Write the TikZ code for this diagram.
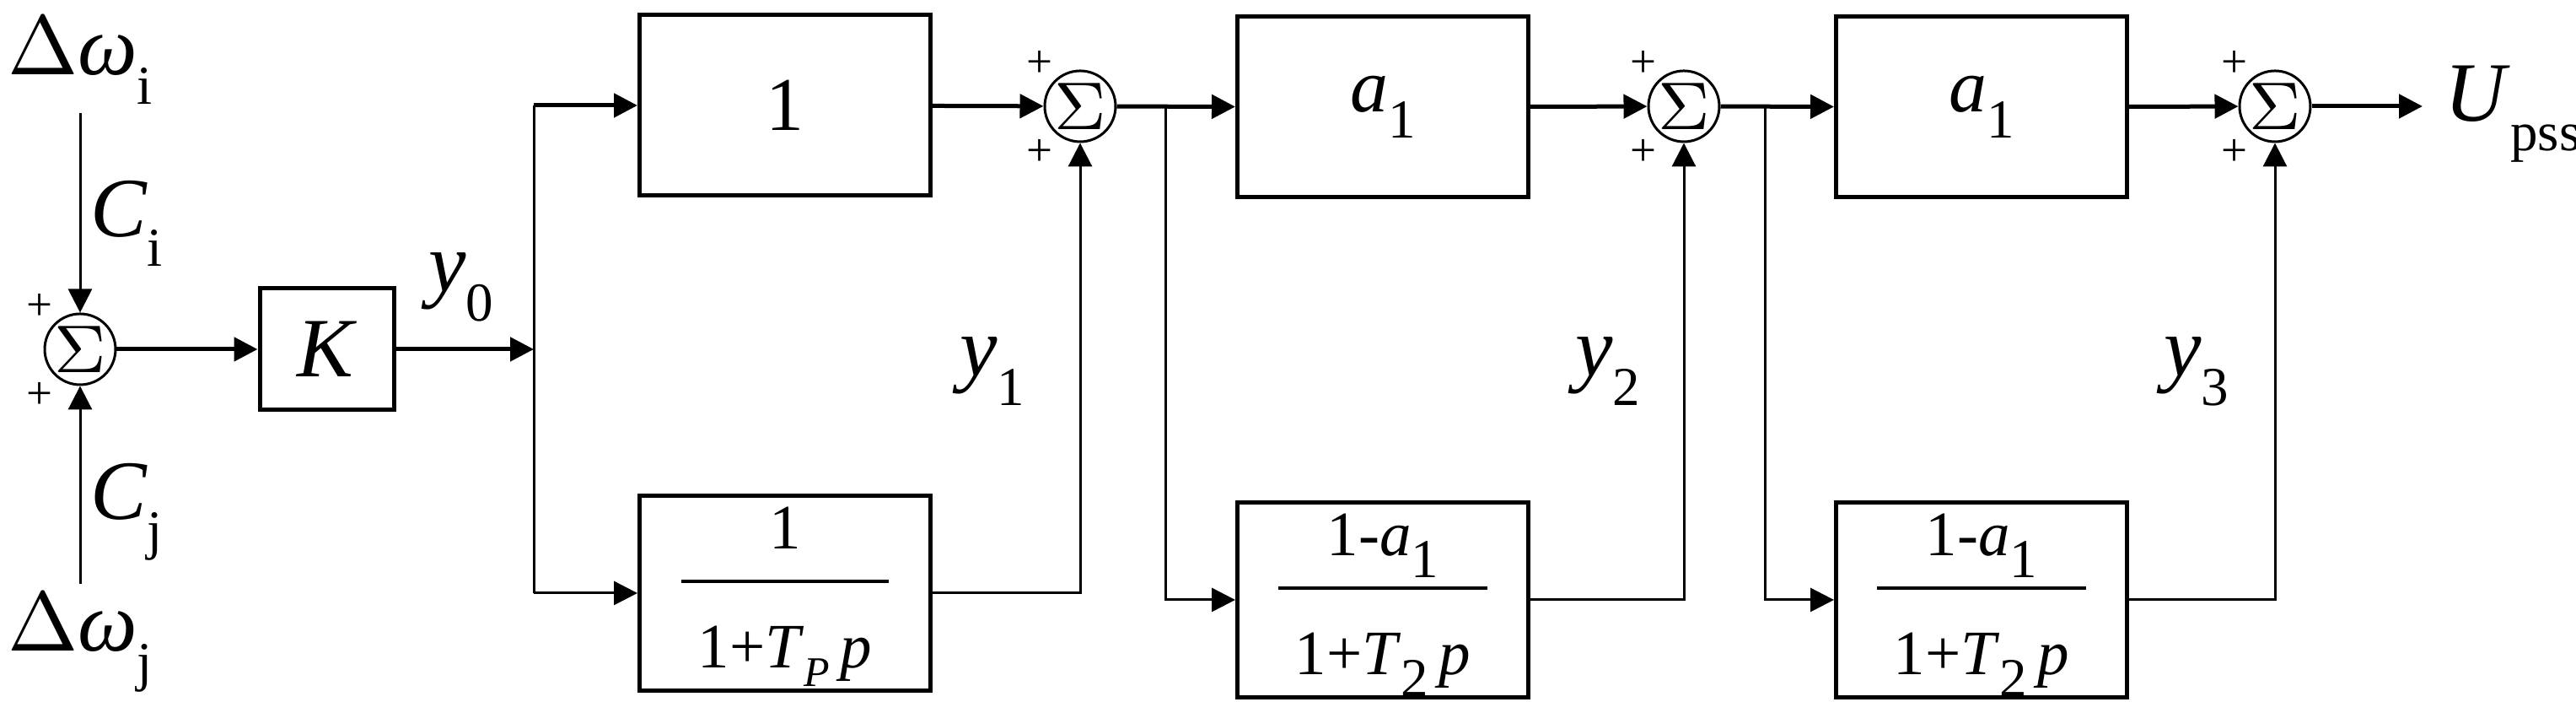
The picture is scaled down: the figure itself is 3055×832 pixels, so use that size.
\documentclass[tikz,border=0pt]{standalone}
\usepackage{fontspec}
\setmainfont{Liberation Serif}
\usetikzlibrary{arrows.meta}
\newcommand{\sbs}[2]{\textit{#1}\raisebox{-0.35em}{\fontsize{6.5}{7}\selectfont #2}}
\begin{document}
\begin{tikzpicture}[x=0.1pt,y=-0.1pt,
  thk/.style={line width=0.5pt},
  thn/.style={line width=0.3pt},
  arr/.style={-{Triangle[length=2.8pt,width=2.8pt]}},
  blk/.style={draw,line width=0.5pt,minimum width=34.5pt,minimum height=21.4pt,inner sep=0pt,font=\fontsize{9}{10}\selectfont},
  sm/.style={draw,line width=0.3pt,circle,minimum size=8.4pt,inner sep=0pt,font=\fontsize{8}{9}\selectfont},
  lab/.style={inner sep=0pt,font=\fontsize{10}{12}\selectfont},
  pl/.style={inner sep=0pt,font=\fontsize{5.5}{6}\selectfont},
  fr/.style={font=\fontsize{7.5}{9}\selectfont}]
\useasboundingbox (0,0) rectangle (3055,832);
% sums
\node[sm] (s1) at (95,414) {$\Sigma$};
\node[sm] (s2) at (1281,126) {$\Sigma$};
\node[sm] (s3) at (1997,126) {$\Sigma$};
\node[sm] (s4) at (2698,126) {$\Sigma$};
\foreach \s in {s1,s2,s3,s4}{
  \node[pl] (\s p1) at ([shift={(-48,-50)}]\s) {+};
  \node[pl] (\s p2) at ([shift={(-48,55)}]\s) {+};
}
% blocks
\node[blk,minimum width=16pt,minimum height=14.4pt,font=\fontsize{10}{12}\selectfont] (K) at (388,414) {\textit{K}};
\node[blk] (b1) at (931,125) {1};
\node[blk] (b2) at (1640,127) {\sbs{a}{1}};
\node[blk] (b3) at (2350,127) {\sbs{a}{1}};
\node[blk,fr] (c1) at (931,703) {\begin{tabular}{@{\hspace{2pt}}c@{\hspace{2pt}}}1\\[1pt]\hline\rule{0pt}{10pt}1+\textit{T}\raisebox{-0.3em}{\fontsize{5}{6}\selectfont \textit{P}}\,\textit{p}\end{tabular}};
\node[blk,fr] (c2) at (1640,711) {\begin{tabular}{@{\hspace{2pt}}c@{\hspace{2pt}}}1-\sbs{a}{1}\\[1pt]\hline\rule{0pt}{10pt}1+\sbs{T}{2}\,\textit{p}\end{tabular}};
\node[blk,fr] (c3) at (2350,711) {\begin{tabular}{@{\hspace{2pt}}c@{\hspace{2pt}}}1-\sbs{a}{1}\\[1pt]\hline\rule{0pt}{10pt}1+\sbs{T}{2}\,\textit{p}\end{tabular}};
% labels
\node[lab] (wi) at (95,72) {$\Delta$\sbs{ω}{i}};
\node[lab] (wj) at (95,762) {$\Delta$\sbs{ω}{j}};
\node[lab] (ci) at (150,265) {\sbs{C}{i}};
\node[lab] (cj) at (150,607) {\sbs{C}{j}};
\node[lab] (y0) at (547,340) {\sbs{y}{0}};
\node[lab] (y1) at (1177,440) {\sbs{y}{1}};
\node[lab] (y2) at (1907,440) {\sbs{y}{2}};
\node[lab] (y3) at (2605,440) {\sbs{y}{3}};
\node[lab] (U) at (2980,135) {\sbs{U}{pss}};
% coordinates
\coordinate (ti) at (95,134);
\coordinate (tj) at (95,692);
\coordinate (j0) at (633,414);
\coordinate (j1) at (1382,126);
\coordinate (j2) at (2093,126);
\coordinate (out) at (2873,126);
% connectors
\draw[thn,arr] (ti) -- (s1);
\draw[thn,arr] (tj) -- (s1);
\draw[thk,arr] (s1) -- (K);
\draw[thk,arr] (K) -- (j0);
\draw[thn] (j0) -- (j0 |- b1.west);
\draw[thk,arr] (j0 |- b1.west) -- (b1.west);
\draw[thn] (j0) -- (j0 |- c1.west);
\draw[thn,arr] (j0 |- c1.west) -- (c1.west);
\draw[thk,arr] (b1) -- (s2);
\draw[thn,arr] (c1.east) -| (s2.south);
\draw[thk,arr] (s2) -- (b2);
\draw[thn,arr] (j1) |- (c2.west);
\draw[thk,arr] (b2) -- (s3);
\draw[thn,arr] (c2.east) -| (s3.south);
\draw[thk,arr] (s3) -- (b3);
\draw[thn,arr] (j2) |- (c3.west);
\draw[thk,arr] (b3) -- (s4);
\draw[thn,arr] (c3.east) -| (s4.south);
\draw[thk,arr] (s4) -- (out);
\end{tikzpicture}
\end{document}
